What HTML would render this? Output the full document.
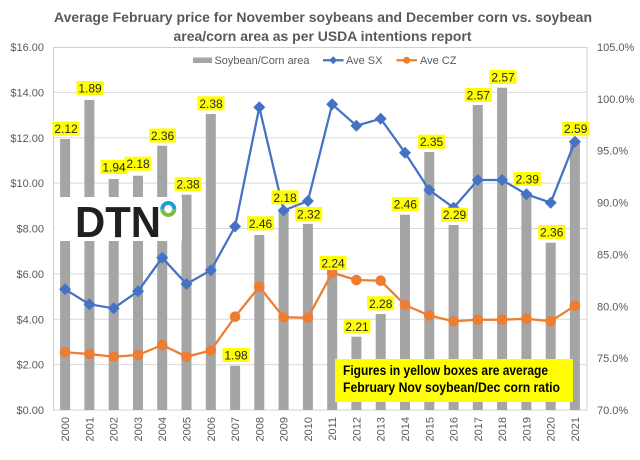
<!DOCTYPE html>
<html><head><meta charset="utf-8"><style>
html,body{margin:0;padding:0;background:#fff;}
svg{display:block;font-family:"Liberation Sans",Arial,sans-serif;}
</style></head><body>
<svg width="640" height="460" viewBox="0 0 640 460" xmlns="http://www.w3.org/2000/svg">
<rect width="640" height="460" fill="#fff"/>
<!-- title -->
<text x="323" y="22" font-size="13.5" font-weight="bold" fill="#595959" text-anchor="middle" textLength="538" lengthAdjust="spacingAndGlyphs">Average February price for November soybeans and December corn vs. soybean</text>
<text x="322.5" y="41" font-size="13.5" font-weight="bold" fill="#595959" text-anchor="middle" textLength="298" lengthAdjust="spacingAndGlyphs">area/corn area as per USDA intentions report</text>
<!-- gridlines -->
<g stroke="#D9D9D9" stroke-width="1">
<line x1="53" y1="92.4" x2="587" y2="92.4"/>
<line x1="53" y1="137.8" x2="587" y2="137.8"/>
<line x1="53" y1="183.1" x2="587" y2="183.1"/>
<line x1="53" y1="228.5" x2="587" y2="228.5"/>
<line x1="53" y1="273.9" x2="587" y2="273.9"/>
<line x1="53" y1="319.3" x2="587" y2="319.3"/>
<line x1="53" y1="364.6" x2="587" y2="364.6"/>
</g>
<rect x="53.5" y="47.5" width="533.5" height="362.5" fill="none" stroke="#D0D0D0" stroke-width="1"/>
<!-- left axis labels -->
<g font-size="11" fill="#595959" text-anchor="end">
<text x="44" y="51">$16.00</text>
<text x="44" y="96.4">$14.00</text>
<text x="44" y="141.8">$12.00</text>
<text x="44" y="187.1">$10.00</text>
<text x="44" y="232.5">$8.00</text>
<text x="44" y="277.9">$6.00</text>
<text x="44" y="323.3">$4.00</text>
<text x="44" y="368.6">$2.00</text>
<text x="44" y="414">$0.00</text>
</g>
<!-- right axis labels -->
<g font-size="11" fill="#595959" text-anchor="start">
<text x="597" y="51">105.0%</text>
<text x="597" y="102.9">100.0%</text>
<text x="597" y="154.7">95.0%</text>
<text x="597" y="206.6">90.0%</text>
<text x="597" y="258.4">85.0%</text>
<text x="597" y="310.3">80.0%</text>
<text x="597" y="362.1">75.0%</text>
<text x="597" y="414">70.0%</text>
</g>
<!-- bars -->
<g fill="#A5A5A5">
<rect x="60.1" y="139" width="10" height="271"/>
<rect x="84.4" y="100" width="10" height="310"/>
<rect x="108.7" y="179" width="10" height="231"/>
<rect x="133" y="175.7" width="10" height="234.3"/>
<rect x="157.2" y="145.7" width="10" height="264.3"/>
<rect x="181.5" y="194.7" width="10" height="215.3"/>
<rect x="205.8" y="114" width="10" height="296"/>
<rect x="230.1" y="365.7" width="10" height="44.3"/>
<rect x="254.3" y="235" width="10" height="175"/>
<rect x="278.6" y="211.7" width="10" height="198.3"/>
<rect x="302.9" y="224" width="10" height="186"/>
<rect x="327.2" y="270" width="10" height="140"/>
<rect x="351.4" y="336.7" width="10" height="73.3"/>
<rect x="375.7" y="314" width="10" height="96"/>
<rect x="400" y="214.7" width="10" height="195.3"/>
<rect x="424.3" y="152" width="10" height="258"/>
<rect x="448.6" y="225" width="10" height="185"/>
<rect x="472.8" y="105" width="10" height="305"/>
<rect x="497.1" y="87.7" width="10" height="322.3"/>
<rect x="521.4" y="192" width="10" height="218"/>
<rect x="545.7" y="242.7" width="10" height="167.3"/>
<rect x="569.9" y="140" width="10" height="270"/>
</g>
<!-- DTN logo box -->
<rect x="55" y="197" width="127" height="44" fill="#fff"/>
<text x="75" y="237" font-size="44" font-weight="bold" fill="#231F20" textLength="86" lengthAdjust="spacingAndGlyphs">DTN</text>
<path d="M162.3 209 A6 6 0 0 1 174.3 209" fill="none" stroke="#1E9AD6" stroke-width="4"/>
<path d="M174.3 209 A6 6 0 0 1 162.3 209" fill="none" stroke="#7DBE43" stroke-width="4"/>
<!-- SX line -->
<polyline fill="none" stroke="#4472C4" stroke-width="2.25" stroke-linejoin="round" points="65.1,289.3 89.4,304.3 113.7,308.3 138,291.3 162.2,257.7 186.5,284 210.8,270.3 235.1,226.5 259.3,107.3 283.6,210.5 307.9,201 332.2,104.3 356.4,125.7 380.7,118.7 405,152.7 429.3,190 453.6,207.7 477.8,180 502.1,180 526.4,194.3 550.7,202.7 574.9,141.7"/>
<g fill="#4472C4">
<path d="M65.1 283.3l6 6-6 6-6-6z"/>
<path d="M89.4 298.3l6 6-6 6-6-6z"/>
<path d="M113.7 302.3l6 6-6 6-6-6z"/>
<path d="M138 285.3l6 6-6 6-6-6z"/>
<path d="M162.2 251.7l6 6-6 6-6-6z"/>
<path d="M186.5 278l6 6-6 6-6-6z"/>
<path d="M210.8 264.3l6 6-6 6-6-6z"/>
<path d="M235.1 220.5l6 6-6 6-6-6z"/>
<path d="M259.3 101.3l6 6-6 6-6-6z"/>
<path d="M283.6 204.5l6 6-6 6-6-6z"/>
<path d="M307.9 195l6 6-6 6-6-6z"/>
<path d="M332.2 98.3l6 6-6 6-6-6z"/>
<path d="M356.4 119.7l6 6-6 6-6-6z"/>
<path d="M380.7 112.7l6 6-6 6-6-6z"/>
<path d="M405 146.7l6 6-6 6-6-6z"/>
<path d="M429.3 184l6 6-6 6-6-6z"/>
<path d="M453.6 201.7l6 6-6 6-6-6z"/>
<path d="M477.8 174l6 6-6 6-6-6z"/>
<path d="M502.1 174l6 6-6 6-6-6z"/>
<path d="M526.4 188.3l6 6-6 6-6-6z"/>
<path d="M550.7 196.7l6 6-6 6-6-6z"/>
<path d="M574.9 135.7l6 6-6 6-6-6z"/>
</g>
<!-- CZ line -->
<polyline fill="none" stroke="#ED7D31" stroke-width="2.25" stroke-linejoin="round" points="65.1,352.3 89.4,354 113.7,356.7 138,355 162.2,345 186.5,356.7 210.8,350.5 235.1,316.7 259.3,286.7 283.6,317.3 307.9,317.7 332.2,272.7 356.4,280 380.7,280.7 405,305 429.3,315.5 453.6,321.3 477.8,319.7 502.1,319.7 526.4,318.7 550.7,321.3 574.9,305.7"/>
<g fill="#ED7D31">
<circle cx="65.1" cy="352.3" r="5.3"/>
<circle cx="89.4" cy="354" r="5.3"/>
<circle cx="113.7" cy="356.7" r="5.3"/>
<circle cx="138" cy="355" r="5.3"/>
<circle cx="162.2" cy="345" r="5.3"/>
<circle cx="186.5" cy="356.7" r="5.3"/>
<circle cx="210.8" cy="350.5" r="5.3"/>
<circle cx="235.1" cy="316.7" r="5.3"/>
<circle cx="259.3" cy="286.7" r="5.3"/>
<circle cx="283.6" cy="317.3" r="5.3"/>
<circle cx="307.9" cy="317.7" r="5.3"/>
<circle cx="332.2" cy="272.7" r="5.3"/>
<circle cx="356.4" cy="280" r="5.3"/>
<circle cx="380.7" cy="280.7" r="5.3"/>
<circle cx="405" cy="305" r="5.3"/>
<circle cx="429.3" cy="315.5" r="5.3"/>
<circle cx="453.6" cy="321.3" r="5.3"/>
<circle cx="477.8" cy="319.7" r="5.3"/>
<circle cx="502.1" cy="319.7" r="5.3"/>
<circle cx="526.4" cy="318.7" r="5.3"/>
<circle cx="550.7" cy="321.3" r="5.3"/>
<circle cx="574.9" cy="305.7" r="5.3"/>
</g>
<!-- yellow labels -->
<g fill="#FFFF00">
<rect x="52.5" y="121.5" width="27" height="14"/>
<rect x="76.5" y="81" width="27" height="14"/>
<rect x="100.5" y="160" width="27" height="14"/>
<rect x="124.5" y="156.7" width="27" height="14"/>
<rect x="149" y="128.5" width="27" height="14"/>
<rect x="174.5" y="177" width="27" height="14"/>
<rect x="197.5" y="96.3" width="27" height="14"/>
<rect x="222.5" y="348" width="27" height="14"/>
<rect x="247" y="216.3" width="27" height="14"/>
<rect x="271.5" y="190.3" width="27" height="14"/>
<rect x="295.2" y="207" width="27" height="14"/>
<rect x="319.5" y="256" width="27" height="14"/>
<rect x="343.5" y="319.3" width="27" height="14"/>
<rect x="367.2" y="296.3" width="27" height="14"/>
<rect x="391.8" y="197" width="27" height="14"/>
<rect x="418" y="134.7" width="27" height="14"/>
<rect x="441" y="207.7" width="27" height="14"/>
<rect x="464.8" y="88" width="27" height="14"/>
<rect x="489.5" y="70" width="27" height="14"/>
<rect x="513.8" y="172" width="27" height="14"/>
<rect x="538.2" y="225" width="27" height="14"/>
<rect x="562.2" y="121.7" width="27" height="14"/>
</g>
<g font-size="12" fill="#262626" text-anchor="middle">
<text x="66" y="133">2.12</text>
<text x="90" y="92.5">1.89</text>
<text x="114" y="171.5">1.94</text>
<text x="138" y="168.2">2.18</text>
<text x="162.5" y="140">2.36</text>
<text x="188" y="188.5">2.38</text>
<text x="211" y="107.8">2.38</text>
<text x="236" y="359.5">1.98</text>
<text x="260.5" y="227.8">2.46</text>
<text x="285" y="201.8">2.18</text>
<text x="308.7" y="218.5">2.32</text>
<text x="333" y="267.5">2.24</text>
<text x="357" y="330.8">2.21</text>
<text x="380.7" y="307.8">2.28</text>
<text x="405.3" y="208.5">2.46</text>
<text x="431.5" y="146.2">2.35</text>
<text x="454.5" y="219.2">2.29</text>
<text x="478.3" y="99.5">2.57</text>
<text x="503" y="81.5">2.57</text>
<text x="527.3" y="183.5">2.39</text>
<text x="551.7" y="236.5">2.36</text>
<text x="575.7" y="133.2">2.59</text>
</g>
<!-- note box -->
<rect x="335" y="359" width="238" height="43" fill="#FFFF00"/>
<text x="343" y="375" font-size="14" font-weight="bold" fill="#000" textLength="205" lengthAdjust="spacingAndGlyphs">Figures in yellow boxes are average</text>
<text x="343" y="392" font-size="14" font-weight="bold" fill="#000" textLength="217" lengthAdjust="spacingAndGlyphs">February Nov soybean/Dec corn ratio</text>
<!-- legend -->
<rect x="193" y="57.5" width="19" height="5.5" fill="#A5A5A5"/>
<text x="214.5" y="64" font-size="11" fill="#595959" textLength="95" lengthAdjust="spacingAndGlyphs">Soybean/Corn area</text>
<line x1="323" y1="60.3" x2="343.5" y2="60.3" stroke="#4472C4" stroke-width="2.25"/>
<path d="M333.2 56.3l4 4-4 4-4-4z" fill="#4472C4"/>
<text x="346" y="64" font-size="11" fill="#595959">Ave SX</text>
<line x1="396.5" y1="60.3" x2="417" y2="60.3" stroke="#ED7D31" stroke-width="2.25"/>
<circle cx="406.7" cy="60.3" r="3.5" fill="#ED7D31"/>
<text x="420" y="64" font-size="11" fill="#595959">Ave CZ</text>
<!-- x labels -->
<g font-size="11" fill="#595959" text-anchor="end">
<text transform="translate(69.1,417) rotate(-90)">2000</text>
<text transform="translate(93.4,417) rotate(-90)">2001</text>
<text transform="translate(117.7,417) rotate(-90)">2002</text>
<text transform="translate(142,417) rotate(-90)">2003</text>
<text transform="translate(166.2,417) rotate(-90)">2004</text>
<text transform="translate(190.5,417) rotate(-90)">2005</text>
<text transform="translate(214.8,417) rotate(-90)">2006</text>
<text transform="translate(239.1,417) rotate(-90)">2007</text>
<text transform="translate(263.3,417) rotate(-90)">2008</text>
<text transform="translate(287.6,417) rotate(-90)">2009</text>
<text transform="translate(311.9,417) rotate(-90)">2010</text>
<text transform="translate(336.2,417) rotate(-90)">2011</text>
<text transform="translate(360.4,417) rotate(-90)">2012</text>
<text transform="translate(384.7,417) rotate(-90)">2013</text>
<text transform="translate(409,417) rotate(-90)">2014</text>
<text transform="translate(433.3,417) rotate(-90)">2015</text>
<text transform="translate(457.6,417) rotate(-90)">2016</text>
<text transform="translate(481.8,417) rotate(-90)">2017</text>
<text transform="translate(506.1,417) rotate(-90)">2018</text>
<text transform="translate(530.4,417) rotate(-90)">2019</text>
<text transform="translate(554.7,417) rotate(-90)">2020</text>
<text transform="translate(578.9,417) rotate(-90)">2021</text>
</g>
</svg>
</body></html>
